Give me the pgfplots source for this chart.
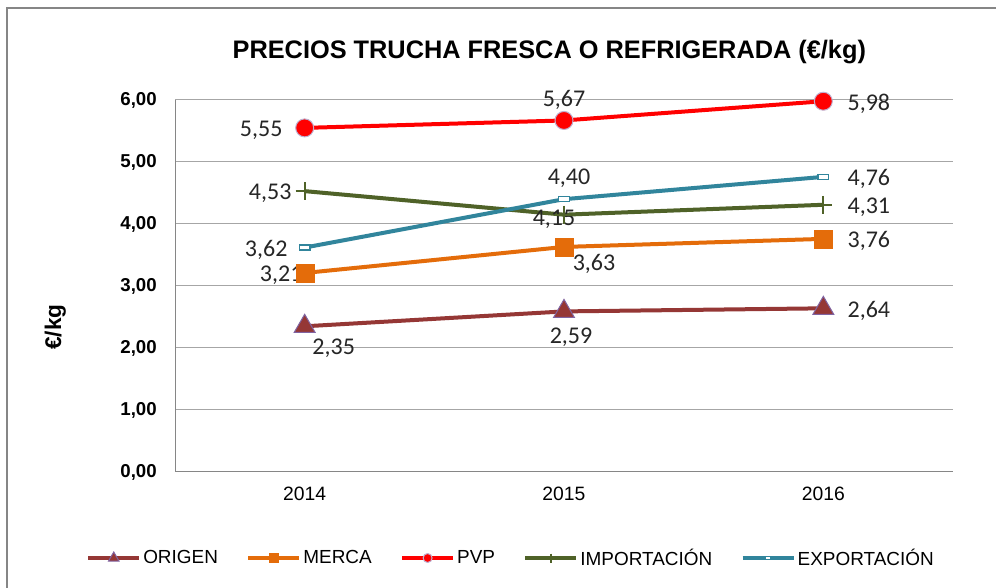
\documentclass[border=0pt]{standalone}
\usepackage{pgfplots}
\pgfplotsset{compat=1.18}
\usepackage{fontspec}
\setmainfont{Liberation Sans}
\newfontfamily\lblfont{Carlito}
\definecolor{origen}{HTML}{953735}
\definecolor{merca}{HTML}{E46C0A}
\definecolor{pvp}{HTML}{FF0000}
\definecolor{impo}{HTML}{4F6228}
\definecolor{expo}{HTML}{31859C}
\definecolor{mkedge}{HTML}{8064A2}
\definecolor{framec}{HTML}{868686}
\definecolor{gridc}{HTML}{A6A6A6}
\tikzset{lbl/.style={font=\lblfont\fontsize{18}{21}\selectfont, inner sep=0pt, text=black!85, yshift=-1.8pt}}
\begin{document}
\begin{tikzpicture}
\path[use as bounding box] (0,0) rectangle (747pt,441pt);
\fill[white] (0,0) rectangle (747pt,441pt);
\draw[framec, line width=1.5pt] (5.25pt,-5pt) -- (5.25pt,435pt) -- (760pt,435pt);
\node[font=\fontsize{19}{22}\selectfont\bfseries, anchor=base] at (412pt,396.75pt) {PRECIOS TRUCHA FRESCA O REFRIGERADA (€/kg)};
\node[font=\fontsize{17}{20}\selectfont\bfseries, rotate=90] at (41.5pt,195.75pt) {€/kg};
\begin{axis}[
  scale only axis, width=583.5pt, height=279pt,
  at={(131.25pt,87pt)}, anchor=south west,
  xmin=-0.5, xmax=2.5, ymin=0, ymax=6,
  xtick={0,1,2}, xticklabels={2014,2015,2016},
  ytick={0,1,2,3,4,5,6},
  axis lines=left,
  axis line style={-, framec, line width=0.75pt},
  ymajorgrids, grid style={gridc, line width=0.75pt},
  major tick length=0pt,
  yticklabel style={font=\fontsize{14}{16}\selectfont\bfseries, inner sep=0pt, xshift=-13.5pt},
  xticklabel style={font=\fontsize{14.5}{17}\selectfont, inner sep=0pt, yshift=-11.25pt},
  /pgf/number format/use comma,
  /pgf/number format/fixed,
  /pgf/number format/fixed zerofill,
  /pgf/number format/precision=2,
  /pgf/number format/assume math mode=true,
  every axis plot/.append style={line width=3pt},
  clip=false,
  legend columns=5,
  legend style={draw=none, fill=none, at={(-0.1144,-0.2312)}, anchor=west,
    font=\fontsize{14.2}{17}\selectfont, inner sep=0pt, column sep=0pt,
    /tikz/every even column/.append style={column sep=19.8pt},
    nodes={inner sep=1.5pt}},
  legend image code/.code={\draw[mark repeat=2,mark phase=2,/tikz/every mark/.append style={scale=0.5}] plot coordinates {(0pt,0pt) (19.125pt,0pt) (38.25pt,0pt)};},
]
\addplot[color=origen, mark=triangle*, mark size=9pt, mark options={solid, fill=origen, draw=mkedge, line width=0.75pt}] coordinates {(0,2.35) (1,2.59) (2,2.64)};
\addlegendentry{ORIGEN}
\addplot[color=merca, mark=square*, mark size=6.75pt, mark options={solid, fill=merca, draw=merca, line width=0.1pt}] coordinates {(0,3.21) (1,3.63) (2,3.76)};
\addlegendentry{MERCA}
\addplot[color=pvp, mark=*, mark size=6.75pt, mark options={solid, fill=pvp, draw=mkedge!50, line width=0.75pt}] coordinates {(0,5.55) (1,5.67) (2,5.98)};
\addlegendentry{PVP}
\addplot[color=impo, mark=+, mark size=6.75pt, mark options={solid, line width=1.5pt}] coordinates {(0,4.53) (1,4.15) (2,4.31)};
\addlegendentry{IMPORTACIÓN}
\addplot[color=expo, mark=square*, mark size=2pt, mark options={solid, fill=white, draw=expo, xscale=2, yscale=0.9, line width=1pt}] coordinates {(0,3.62) (1,4.40) (2,4.76)};
\addlegendentry{EXPORTACIÓN}
% data labels
\node[lbl, anchor=east, xshift=-16.5pt] at (axis cs:0,5.55) {5,55};
\node[lbl, yshift=17.25pt] at (axis cs:1,5.67) {5,67};
\node[lbl, anchor=west, xshift=18pt] at (axis cs:2,5.98) {5,98};
\node[lbl, anchor=east, xshift=-12.75pt] at (axis cs:0,3.62) {3,62};
\node[lbl, xshift=3.75pt, yshift=17.25pt] at (axis cs:1,4.40) {4,40};
\node[lbl, anchor=west, xshift=18pt] at (axis cs:2,4.76) {4,76};
\node[lbl, anchor=east, xshift=-9.75pt] at (axis cs:0,4.53) {4,53};
\node[lbl, xshift=-7.5pt, yshift=-1.5pt] at (axis cs:1,4.15) {4,15};
\node[lbl, anchor=west, xshift=18pt] at (axis cs:2,4.31) {4,31};
\node[lbl, xshift=-17.6pt] at (axis cs:0,3.21) {3,21};
\node[lbl, xshift=22.5pt, yshift=-11.25pt] at (axis cs:1,3.63) {3,63};
\node[lbl, anchor=west, xshift=18pt] at (axis cs:2,3.76) {3,76};
\node[lbl, xshift=21.75pt, yshift=-14.5pt] at (axis cs:0,2.35) {2,35};
\node[lbl, xshift=5.25pt, yshift=-17.25pt] at (axis cs:1,2.59) {2,59};
\node[lbl, anchor=west, xshift=18pt] at (axis cs:2,2.64) {2,64};
\end{axis}
\end{tikzpicture}
\end{document}
